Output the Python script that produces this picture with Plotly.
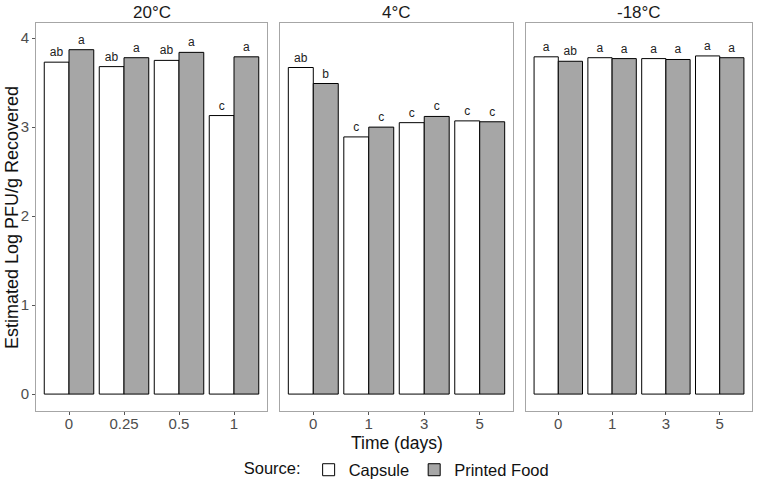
import plotly.graph_objects as go

panels = ["20°C", "4°C", "-18°C"]
times = [["0", "0.25", "0.5", "1"], ["0", "1", "3", "5"], ["0", "1", "3", "5"]]
capsule = [[3.73, 3.68, 3.75, 3.13], [3.67, 2.89, 3.05, 3.07], [3.79, 3.78, 3.77, 3.80]]
printed = [[3.87, 3.78, 3.84, 3.79], [3.49, 3.00, 3.12, 3.06], [3.74, 3.77, 3.76, 3.78]]
capsule_letters = [["ab", "ab", "ab", "c"], ["ab", "c", "c", "c"], ["a", "a", "a", "a"]]
printed_letters = [["a", "a", "a", "a"], ["b", "c", "c", "c"], ["ab", "a", "a", "a"]]

W, H = 762, 485
xpix = [(36, 267), (280, 513), (526, 752)]
ydom = [1 - 411 / H, 1 - 23 / H]
FONT = "Liberation Sans, Arial, sans-serif"
BORDER = "#a6a6a6"

fig = go.Figure()
for i in range(3):
    xa = "x" if i == 0 else f"x{i+1}"
    ya = "y" if i == 0 else f"y{i+1}"
    fig.add_trace(go.Bar(
        x=times[i], y=capsule[i], name="Capsule", legendgroup="c", showlegend=(i == 0),
        marker=dict(color="white", line=dict(color="black", width=1)),
        text=capsule_letters[i], textposition="outside", cliponaxis=False,
        textfont=dict(size=12, color="#222", family=FONT),
        xaxis=xa, yaxis=ya))
    fig.add_trace(go.Bar(
        x=times[i], y=printed[i], name="Printed Food", legendgroup="p", showlegend=(i == 0),
        marker=dict(color="#a6a6a6", line=dict(color="black", width=1)),
        text=printed_letters[i], textposition="outside", cliponaxis=False,
        textfont=dict(size=12, color="#222", family=FONT),
        xaxis=xa, yaxis=ya))

layout = dict(
    width=W, height=H, margin=dict(l=0, r=0, t=0, b=0, autoexpand=False),
    paper_bgcolor="white", plot_bgcolor="white",
    barmode="group", bargap=0.1, bargroupgap=0,
    font=dict(family=FONT, size=15, color="#4d4d4d"),
    showlegend=True,
    legend=dict(orientation="h", x=0.522, xanchor="center", y=(H - 470) / H, yanchor="middle",
                title=dict(text="Source:", side="left", font=dict(size=16.5, color="#111")),
                font=dict(size=16.5, color="#111"), itemwidth=30, traceorder="normal"),
    uniformtext=dict(minsize=12, mode="show"),
)
for i in range(3):
    xk = "xaxis" if i == 0 else f"xaxis{i+1}"
    yk = "yaxis" if i == 0 else f"yaxis{i+1}"
    ya = "y" if i == 0 else f"y{i+1}"
    xa = "x" if i == 0 else f"x{i+1}"
    layout[xk] = dict(domain=[xpix[i][0] / W, xpix[i][1] / W], anchor=ya, type="category",
                      range=[-0.6, 3.6], showline=True, mirror=True, linecolor=BORDER, linewidth=1,
                      ticks="outside", ticklen=3, tickcolor="#555", showgrid=False,
                      ticklabelstandoff=-4,
                      tickfont=dict(size=15, color="#4d4d4d"), fixedrange=True, automargin=False)
    layout[yk] = dict(domain=ydom, anchor=xa, range=[-0.19, 4.17], showline=True, mirror=True,
                      linecolor=BORDER, linewidth=1, showgrid=False, zeroline=False,
                      tickvals=[0, 1, 2, 3, 4], showticklabels=(i == 0),
                      ticks="outside" if i == 0 else "", ticklen=3, tickcolor="#555",
                      tickfont=dict(size=15, color="#4d4d4d"), automargin=False)
fig.update_layout(**layout)

for i in range(3):
    fig.add_annotation(text=panels[i], x=(xpix[i][0] + xpix[i][1]) / 2 / W, y=1 - 12 / H,
                       xref="paper", yref="paper", showarrow=False, xanchor="center", yanchor="middle",
                       font=dict(size=17, color="#1a1a1a"))
fig.add_annotation(text="Time (days)", x=397 / W, y=1 - 443 / H, xref="paper", yref="paper",
                   showarrow=False, xanchor="center", yanchor="middle", font=dict(size=17.5, color="#111"))
fig.add_annotation(text="Estimated Log PFU/g Recovered", x=12 / W, y=1 - 218 / H, xref="paper",
                   yref="paper", showarrow=False, textangle=-90, xanchor="center", yanchor="middle",
                   font=dict(size=18, color="#111"))

fig.write_html("out.html")
